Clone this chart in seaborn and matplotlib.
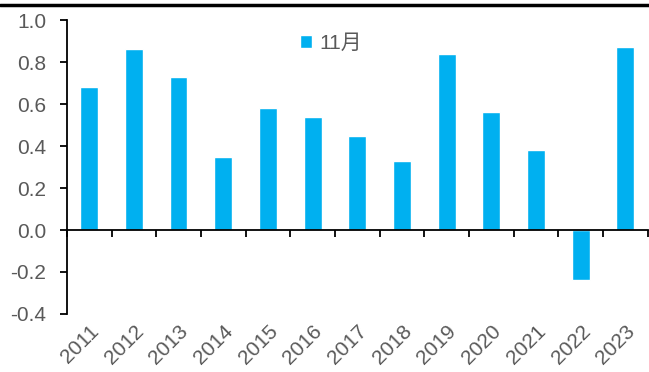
import matplotlib
matplotlib.use("Agg")
import matplotlib.pyplot as plt
from matplotlib.lines import Line2D
from matplotlib.patches import Patch
import seaborn as sns
import pandas as pd
import numpy as np

years = ["2011", "2012", "2013", "2014", "2015", "2016", "2017",
         "2018", "2019", "2020", "2021", "2022", "2023"]
values = [0.68, 0.86, 0.73, 0.35, 0.58, 0.54, 0.45,
          0.33, 0.84, 0.56, 0.38, -0.24, 0.87]
series_name = "11月"
bar_color = "#00B0F0"
yticks = [-0.4, -0.2, 0.0, 0.2, 0.4, 0.6, 0.8, 1.0]

sns.set_style("white")
plt.rcParams["font.family"] = ["Liberation Sans", "Noto Sans CJK SC", "DejaVu Sans"]

df = pd.DataFrame({"year": years, "value": values})

fig = plt.figure(figsize=(6.49, 3.72), dpi=100)
ax = fig.add_axes([0.103, 0.156, 0.895, 0.790])

sns.barplot(data=df, x="year", y="value", color=bar_color, width=0.4,
            saturation=1, ax=ax, zorder=2)

ax.set_xlim(-0.5, len(years) - 0.5)
ax.set_ylim(-0.4, 1.0)
ax.set_yticks(yticks)
ax.set_yticklabels([f"{v:.1f}" for v in yticks])
ax.set_xlabel("")
ax.set_ylabel("")

for side in ["top", "right"]:
    ax.spines[side].set_visible(False)
ax.spines["left"].set_color("black")
ax.spines["left"].set_linewidth(1.3)
ax.spines["bottom"].set_position(("data", 0))
ax.spines["bottom"].set_color("black")
ax.spines["bottom"].set_linewidth(1.3)
ax.spines["bottom"].set_zorder(3)

# boundary ticks on the zero line, labels below the plot
ax.set_xticks(np.arange(len(years) + 1) - 0.5, minor=True)
ax.tick_params(axis="x", which="minor", direction="out", length=5,
               width=1.3, color="black", bottom=True)
ax.tick_params(axis="x", which="major", length=0, pad=66,
               labelsize=15, labelcolor="#595959")
for lbl in ax.get_xticklabels():
    lbl.set_rotation(45)
    lbl.set_ha("right")
    lbl.set_rotation_mode("anchor")
ax.tick_params(axis="y", direction="out", length=5, width=1.3,
               color="black", left=True, labelsize=15, labelcolor="#595959",
               pad=10)

ax.legend(handles=[Patch(facecolor=bar_color, label=series_name)],
          loc="center", bbox_to_anchor=(0.455, 0.92), frameon=False,
          fontsize=15, handlelength=0.6, handleheight=0.6,
          handletextpad=0.35, labelcolor="#595959")

fig.add_artist(Line2D([0, 1], [1 - 5 / 372, 1 - 5 / 372],
                      transform=fig.transFigure, color="black", lw=2.5))

fig.savefig("out.png", dpi=100)
